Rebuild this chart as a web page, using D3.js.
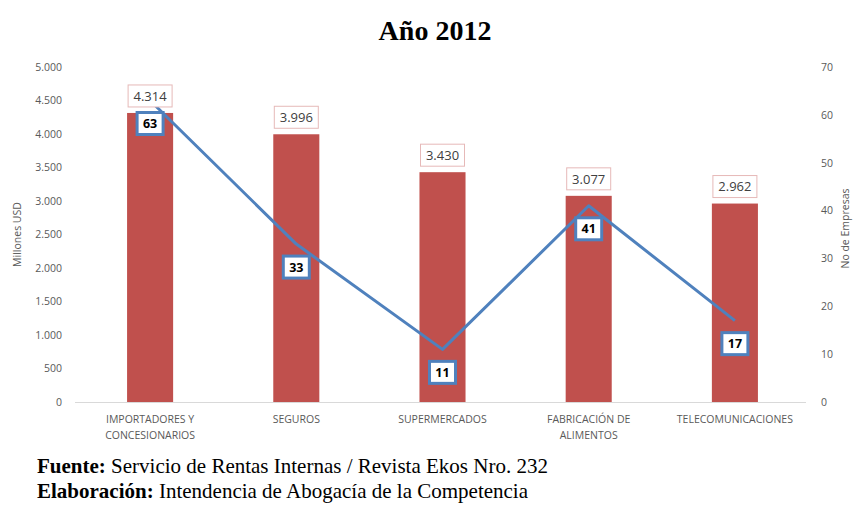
<!DOCTYPE html>
<html>
<head>
<meta charset="utf-8">
<script src="https://cdn.jsdelivr.net/npm/d3@7"></script>
<style>
  html, body { margin: 0; padding: 0; background: #fff; }
  svg { display: block; }
</style>
</head>
<body>
<svg id="chart" width="854" height="511"></svg>
<script>
// Sectors and their 2012 figures
const categories = [
  ["IMPORTADORES Y", "CONCESIONARIOS"],
  ["SEGUROS"],
  ["SUPERMERCADOS"],
  ["FABRICACIÓN DE", "ALIMENTOS"],
  ["TELECOMUNICACIONES"]
];
const ventas = [4314, 3996, 3430, 3077, 2962];      // Millones USD
const empresas = [63, 33, 11, 41, 17];              // No de Empresas
const leftTicks = [0, 500, 1000, 1500, 2000, 2500, 3000, 3500, 4000, 4500, 5000];
const rightTicks = [0, 10, 20, 30, 40, 50, 60, 70];

const svg = d3.select("#chart");
const plot = { left: 75, right: 806, top: 67, bottom: 402 };
const barColor = "#C0504D", lineColor = "#4F81BD";
const sans = "'Open Sans', 'Noto Sans', sans-serif";
const serif = "'Liberation Serif', 'Times New Roman', serif";

const fmt = v => d3.format(",")(v).replace(/,/g, ".");

const x = d3.scaleBand()
  .domain(d3.range(categories.length))
  .range([plot.left + 2, plot.right + 2])
  .paddingInner(0.685).paddingOuter(0.3425);
const yL = d3.scaleLinear().domain([0, 5000]).range([plot.bottom, plot.top]);
const yR = d3.scaleLinear().domain([0, 70]).range([plot.bottom, plot.top]);

// Title
svg.append("text")
  .attr("x", 435).attr("y", 40)
  .attr("text-anchor", "middle")
  .attr("font-family", serif).attr("font-weight", "bold").attr("font-size", 28)
  .attr("fill", "#000")
  .text("Año 2012");

// Left axis
const axL = svg.append("g").attr("transform", `translate(${plot.left},0)`)
  .call(d3.axisLeft(yL).tickValues(leftTicks).tickFormat(fmt).tickSize(0).tickPadding(13));
axL.select(".domain").remove();
axL.selectAll("text").attr("font-family", sans).attr("font-size", 10.5).attr("fill", "#595959");

// Right axis
const axR = svg.append("g").attr("transform", `translate(${plot.right},0)`)
  .call(d3.axisRight(yR).tickValues(rightTicks).tickSize(0).tickPadding(15));
axR.select(".domain").remove();
axR.selectAll("text").attr("font-family", sans).attr("font-size", 10.5).attr("fill", "#595959");

// Axis titles
svg.append("text")
  .attr("transform", `translate(21,${(plot.top + plot.bottom) / 2}) rotate(-90)`)
  .attr("text-anchor", "middle")
  .attr("font-family", sans).attr("font-size", 10.5).attr("fill", "#595959")
  .text("Millones USD");
svg.append("text")
  .attr("transform", `translate(849,${(plot.top + plot.bottom) / 2 - 6}) rotate(-90)`)
  .attr("text-anchor", "middle")
  .attr("font-family", sans).attr("font-size", 10.5).attr("fill", "#595959")
  .text("No de Empresas");

// Bars
svg.append("g").selectAll("rect")
  .data(ventas)
  .join("rect")
  .attr("x", (d, i) => x(i))
  .attr("y", d => yL(d))
  .attr("width", x.bandwidth())
  .attr("height", d => yL(0) - yL(d))
  .attr("fill", barColor);

// Baseline
svg.append("line")
  .attr("x1", plot.left).attr("x2", plot.right)
  .attr("y1", plot.bottom + 0.5).attr("y2", plot.bottom + 0.5)
  .attr("stroke", "#d9d9d9").attr("stroke-width", 1);

// Category labels
const cat = svg.append("g").selectAll("text")
  .data(categories)
  .join("text")
  .attr("x", (d, i) => x(i) + x.bandwidth() / 2)
  .attr("y", 423)
  .attr("text-anchor", "middle")
  .attr("font-family", sans).attr("font-size", 10.5).attr("fill", "#595959");
cat.selectAll("tspan")
  .data(d => d)
  .join("tspan")
  .attr("x", function () { return d3.select(this.parentNode).attr("x"); })
  .attr("dy", (d, i) => i === 0 ? 0 : 16)
  .text(d => d);

// Line series
const cx = i => x(i) + x.bandwidth() / 2;
svg.append("path")
  .datum(empresas)
  .attr("d", d3.line().x((d, i) => cx(i)).y(d => yR(d)))
  .attr("fill", "none")
  .attr("stroke", lineColor).attr("stroke-width", 3)
  .attr("stroke-linejoin", "round");

// Bar value labels
const bl = svg.append("g").selectAll("g")
  .data(ventas)
  .join("g")
  .attr("transform", (d, i) => `translate(${cx(i)},${yL(d) - 17})`);
bl.append("rect")
  .attr("x", -22).attr("y", -11).attr("width", 44).attr("height", 22)
  .attr("fill", "#fff").attr("stroke", "#E6B9B8").attr("stroke-width", 1);
bl.append("text")
  .attr("text-anchor", "middle").attr("dy", "0.36em")
  .attr("font-family", sans).attr("font-size", 13).attr("fill", "#404040")
  .text(d => fmt(d));

// Line value labels
const ll = svg.append("g").selectAll("g")
  .data(empresas)
  .join("g")
  .attr("transform", (d, i) => `translate(${cx(i)},${yR(d) + 23})`);
ll.append("rect")
  .attr("x", -13).attr("y", -11).attr("width", 26).attr("height", 22)
  .attr("fill", "#fff").attr("stroke", lineColor).attr("stroke-width", 3);
ll.append("text")
  .attr("text-anchor", "middle").attr("dy", "0.36em")
  .attr("font-family", sans).attr("font-weight", "bold").attr("font-size", 12.5).attr("fill", "#000")
  .text(d => d);

// Source notes
const notes = [["Fuente:", " Servicio de Rentas Internas / Revista Ekos Nro. 232"],
               ["Elaboración:", " Intendencia de Abogacía de la Competencia"]];
svg.append("g").selectAll("text")
  .data(notes)
  .join("text")
  .attr("x", 37).attr("y", (d, i) => 473 + i * 25)
  .attr("font-family", serif).attr("font-size", 21).attr("fill", "#000")
  .each(function (d) {
    const t = d3.select(this);
    t.append("tspan").attr("font-weight", "bold").text(d[0]);
    t.append("tspan").text(d[1]);
  });
</script>
</body>
</html>
